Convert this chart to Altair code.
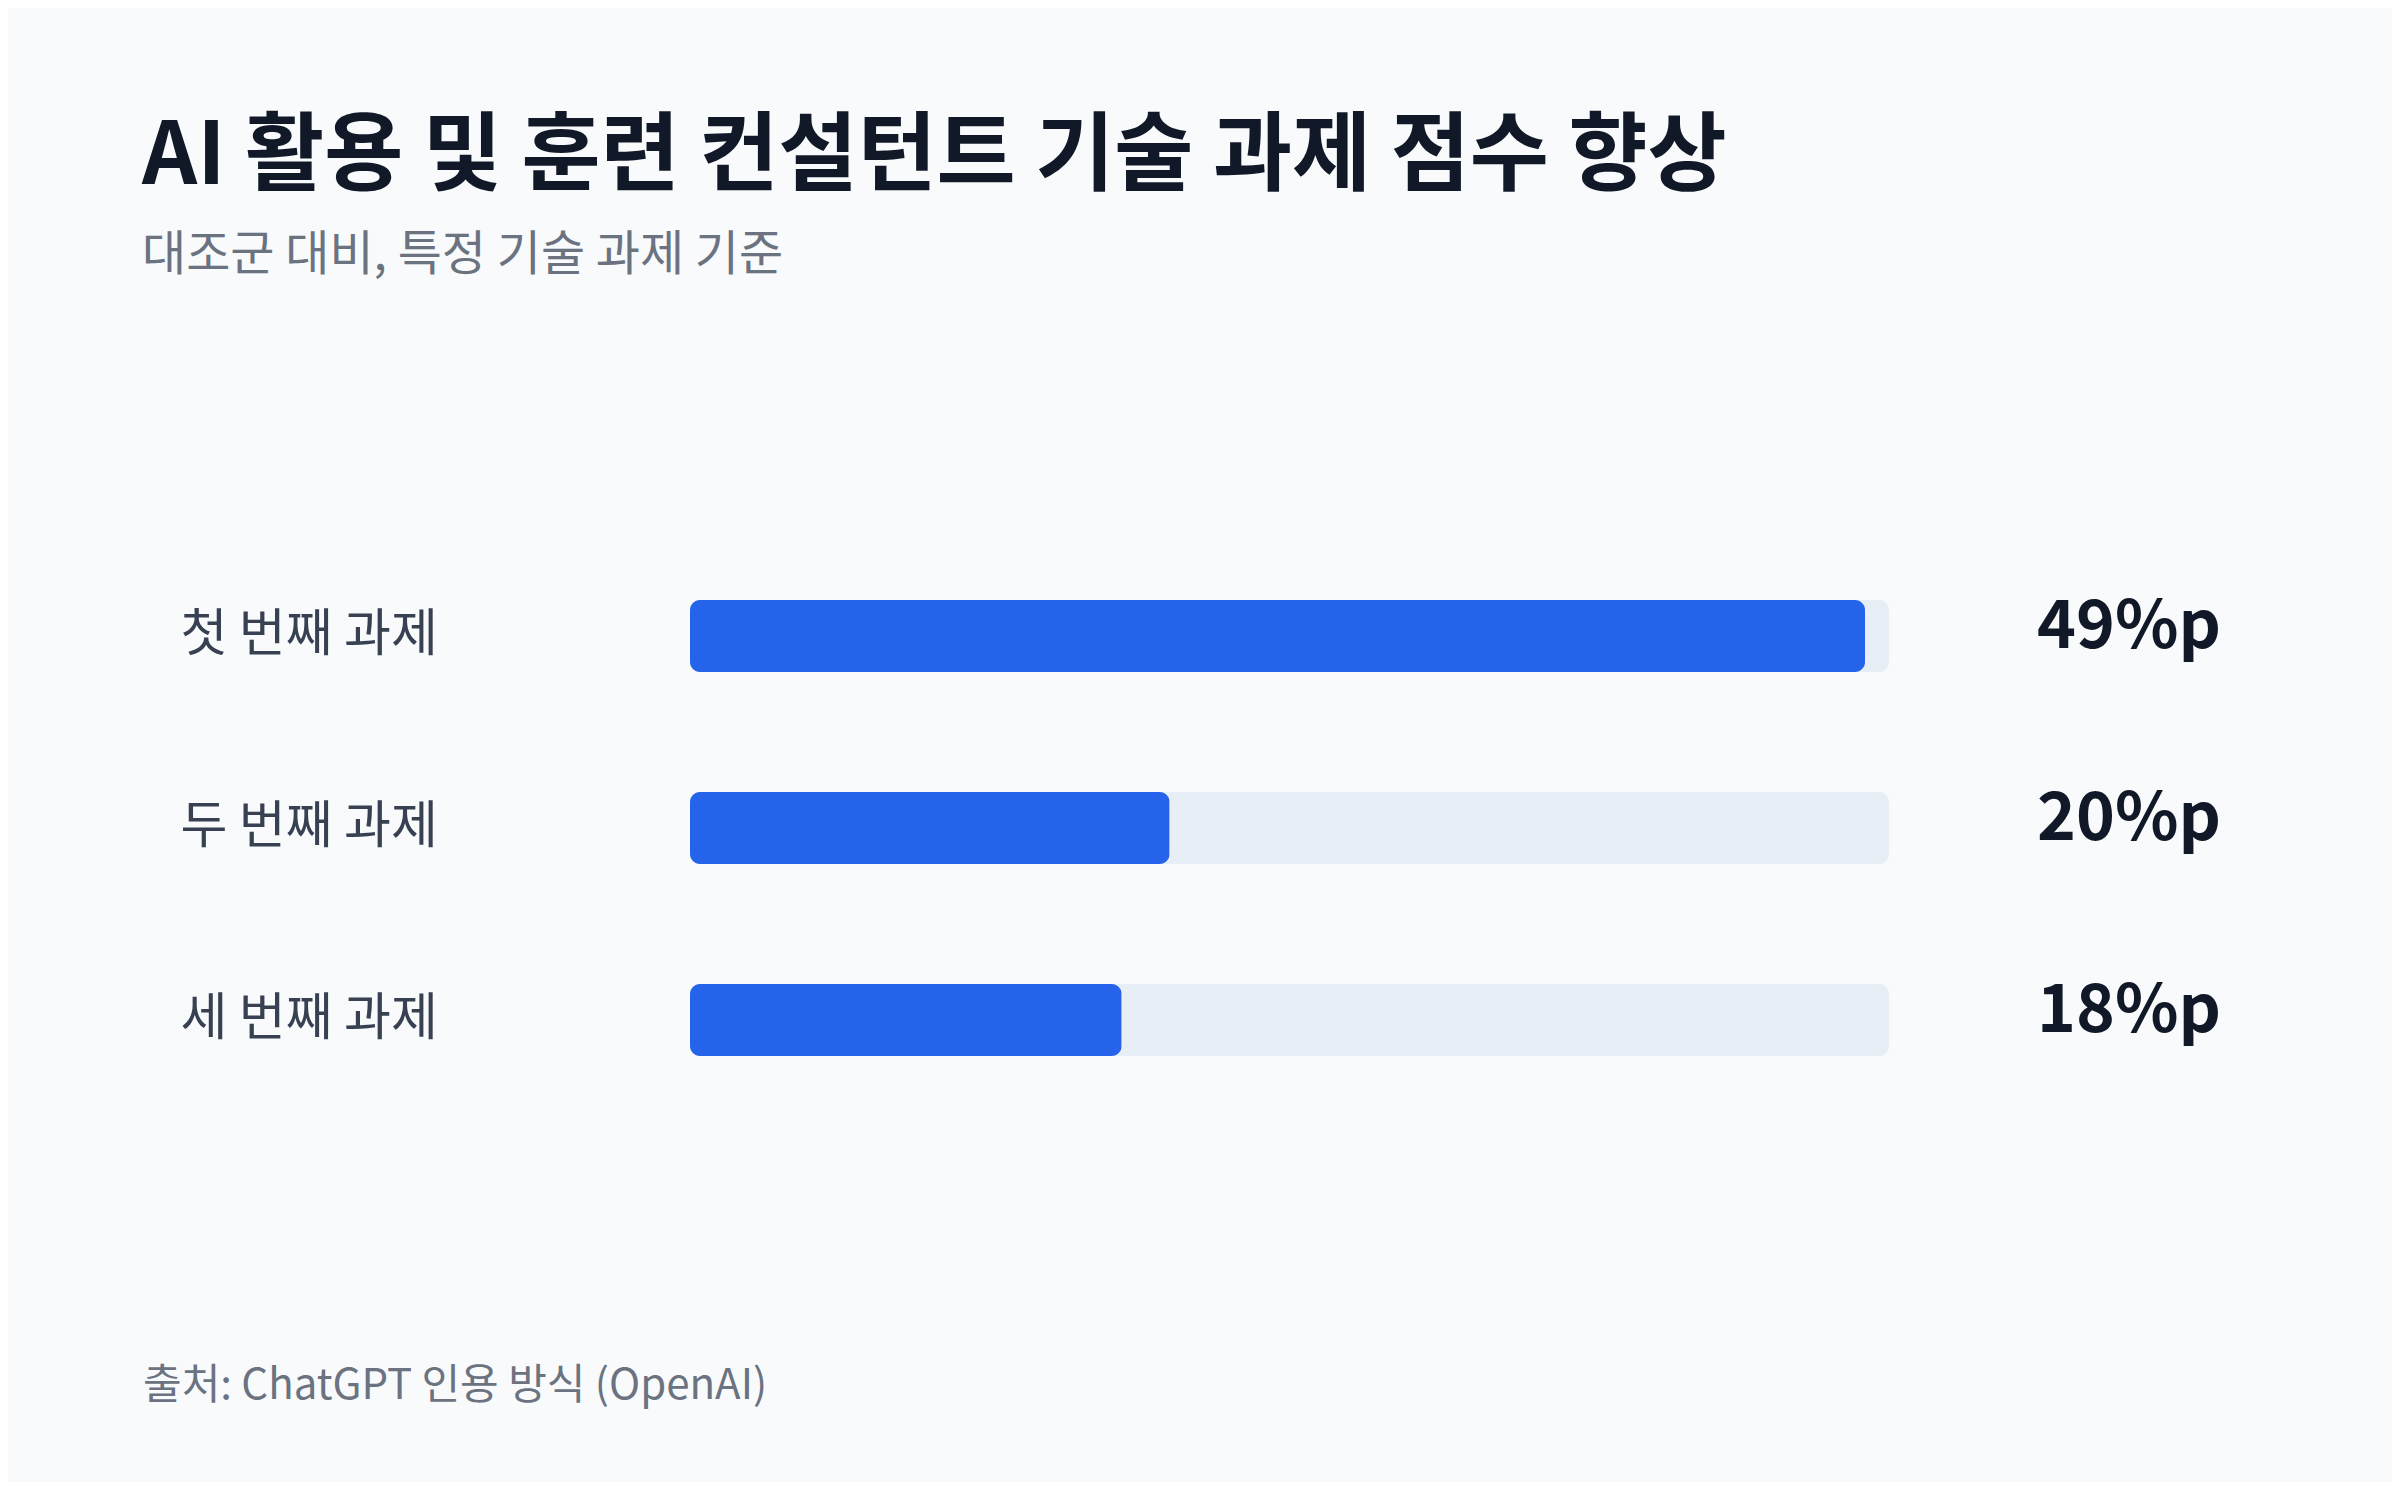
import altair as alt
import pandas as pd

# ---- data ----
categories = ["첫 번째 과제", "두 번째 과제", "세 번째 과제"]
values = [49, 20, 18]
value_labels = ["49%p", "20%p", "18%p"]
scale_max = 50

title_text = "AI 활용 및 훈련 컨설턴트 기술 과제 점수 향상"
subtitle_text = "대조군 대비, 특정 기술 과제 기준"
footer_text = "출처: ChatGPT 인용 방식 (OpenAI)"

FONT = "Noto Sans CJK KR"
BG = "#f8fafc"
BLUE = "#2563eb"
TRACK = "#e8eef6"
DARK = "#111827"
LABEL = "#374151"
MUTED = "#6b7280"

df = pd.DataFrame({
    "task": categories,
    "value": values,
    "label": value_labels,
    "track": [scale_max] * len(categories),
})

y_enc = alt.Y(
    "task:N",
    sort=categories,
    scale=alt.Scale(paddingInner=0.625, paddingOuter=0.3125),
    axis=alt.Axis(
        title=None, ticks=False, tickSize=0, domain=False, grid=False,
        labelAlign="left", labelBaseline="middle", labelPadding=510,
        labelFontSize=51, labelColor=LABEL, labelFont=FONT, labelLimit=0,
    ),
)
x_scale = alt.Scale(domain=[0, scale_max], nice=False, zero=True)

base = alt.Chart(df)

track = base.mark_bar(cornerRadius=10, color=TRACK).encode(
    x=alt.X("track:Q", scale=x_scale, axis=None),
    y=y_enc,
)

bars = base.mark_bar(cornerRadius=10, color=BLUE).encode(
    x=alt.X("value:Q", scale=x_scale, axis=None),
    y=y_enc,
)

texts = base.mark_text(
    align="right", baseline="alphabetic", dx=332, dy=12,
    fontSize=66, fontWeight="bold", color=DARK, font=FONT,
).encode(
    x=alt.X("track:Q", scale=x_scale, axis=None),
    y=y_enc,
    text="label:N",
)

footer = alt.Chart(pd.DataFrame({"t": [footer_text]})).mark_text(
    align="left", baseline="alphabetic", fontSize=42, color=MUTED, font=FONT,
).encode(
    x=alt.value(-547),
    y=alt.value(859),
    text="t:N",
)

chart = alt.layer(track, bars, texts, footer).properties(
    width=1199,
    height=576,
    autosize=alt.AutoSizeParams(type="none"),
    padding={"left": 682, "top": 532, "right": 503, "bottom": 366},
    background=BG,
    title=alt.TitleParams(
        text=title_text,
        subtitle=subtitle_text,
        anchor="start",
        frame="group",
        dx=-548,
        offset=259,
        font=FONT,
        fontSize=86,
        fontWeight="bold",
        color=DARK,
        subtitleFont=FONT,
        subtitleFontSize=48,
        subtitleColor=MUTED,
        subtitlePadding=30,
    ),
).configure(font=FONT).configure_view(strokeWidth=0, stroke="transparent")

chart.save("out.html", embed_options={"renderer": "svg", "actions": False})
